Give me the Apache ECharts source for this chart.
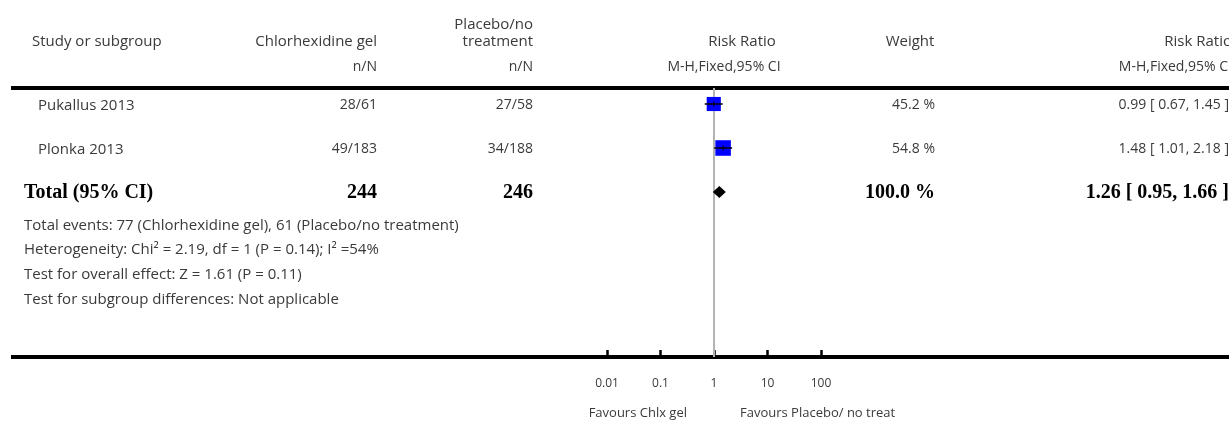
<!DOCTYPE html>
<html>
<head>
<meta charset="utf-8">
<script src="https://cdn.jsdelivr.net/npm/echarts@6/dist/echarts.min.js"></script>
<style>
html, body { margin: 0; padding: 0; background: #fff; }
#chart { width: 1229px; height: 423px; }
</style>
</head>
<body>
<div id="chart"></div>
<script>
// study rows
var studies = ['Pukallus 2013', 'Plonka 2013'];
var treatEvents = ['28/61', '49/183'];
var ctrlEvents = ['27/58', '34/188'];
var ratio = [0.99, 1.48];
var ciLow = [0.67, 1.01];
var ciHigh = [1.45, 2.18];
var weights = [45.2, 54.8];

// pooled
var totalLabel = 'Total (95% CI)';
var totalN = ['244', '246'];
var totalWeight = 100.0;
var totalRatio = [1.26, 0.95, 1.66];

var footnotes = [
    'Total events: 77 (Chlorhexidine gel), 61 (Placebo/no treatment)',
    'Heterogeneity: Chi\u00b2 = 2.19, df = 1 (P = 0.14); I\u00b2 =54%',
    'Test for overall effect: Z = 1.61 (P = 0.11)',
    'Test for subgroup differences: Not applicable'
];
var tickLabels = ['0.01', '0.1', '1', '10', '100'];
var favours = ['Favours Chlx gel', 'Favours Placebo/ no treat'];

var font = '"Open Sans", Lato, sans-serif';
var serif = '"Liberation Serif", "DejaVu Serif", serif';
var txt = '#3a3a3a';
var rowY = [104, 148, 192];
var rowH = 44;

function fmt(v) { return v.toFixed(2); }
function ciText(r, l, h) { return fmt(r) + ' [ ' + fmt(l) + ', ' + fmt(h) + ' ]'; }

function text(x, y, s, align, opts) {
    opts = opts || {};
    return {
        type: 'text', x: x, y: y + (opts.dy === undefined ? 1.5 : opts.dy), silent: true,
        style: {
            text: s, textAlign: align, textVerticalAlign: 'middle',
            font: (opts.bold ? 'bold ' : '') + (opts.size || 15) + 'px ' + (opts.family || font),
            fill: opts.color || txt
        }
    };
}

var num = { size: 14 };
var g = [];
// headers
g.push(text(32, 40, 'Study or subgroup', 'left'));
g.push(text(377, 40, 'Chlorhexidine gel', 'right'));
g.push(text(533, 23, 'Placebo/no', 'right'));
g.push(text(533, 40, 'treatment', 'right'));
g.push(text(742, 40, 'Risk Ratio', 'center'));
g.push(text(910, 40, 'Weight', 'center'));
g.push(text(1232, 40, 'Risk Ratio', 'right'));
g.push(text(377, 66, 'n/N', 'right', num));
g.push(text(533, 66, 'n/N', 'right', num));
g.push(text(724, 66, 'M-H,Fixed,95% CI', 'center', num));
g.push(text(1232, 66, 'M-H,Fixed,95% CI', 'right', num));

// rules
g.push({ type: 'line', silent: true, shape: { x1: 11, y1: 88, x2: 1229, y2: 88 }, style: { stroke: '#000', lineWidth: 4 } });
g.push({ type: 'line', silent: true, shape: { x1: 11, y1: 357, x2: 1229, y2: 357 }, style: { stroke: '#000', lineWidth: 4 } });

studies.forEach(function (s, i) {
    var y = rowY[i];
    g.push(text(38, y, s, 'left'));
    g.push(text(377, y, treatEvents[i], 'right', num));
    g.push(text(533, y, ctrlEvents[i], 'right', num));
    g.push(text(935, y, weights[i].toFixed(1) + ' %', 'right', num));
    g.push(text(1229, y, ciText(ratio[i], ciLow[i], ciHigh[i]), 'right', num));
});

var bold = { bold: true, size: 20, family: serif, color: '#000', dy: 0.5 };
g.push(text(24, rowY[2], totalLabel, 'left', bold));
g.push(text(377, rowY[2], totalN[0], 'right', bold));
g.push(text(533, rowY[2], totalN[1], 'right', bold));
g.push(text(935, rowY[2], totalWeight.toFixed(1) + ' %', 'right', bold));
g.push(text(1229, rowY[2], ciText(totalRatio[0], totalRatio[1], totalRatio[2]), 'right', bold));

footnotes.forEach(function (f, i) {
    g.push(text(24, 224 + i * 24.7, f, 'left'));
});

g.push(text(687, 412, favours[0], 'right', { size: 13 }));
g.push(text(740, 412, favours[1], 'left', { size: 13 }));

var rows = studies.map(function (s, i) { return i; });
var squares = rows.map(function (i) { return [ratio[i], i, weights[i]]; });
var cis = rows.map(function (i) { return [ratio[i], i, ciLow[i], ciHigh[i]]; });

var chart = echarts.init(document.getElementById('chart'));
chart.setOption({
    animation: false,
    grid: { left: 607, width: 214, top: 88, height: 269 },
    xAxis: {
        type: 'log', logBase: 10, min: 0.01, max: 100,
        splitLine: { show: false },
        axisLine: { onZero: false, lineStyle: { color: '#000', width: 4 } },
        axisTick: { inside: true, length: 7, lineStyle: { color: '#000', width: 2.5 } },
        axisLabel: {
            margin: 21, fontFamily: font, fontSize: 12, color: txt,
            formatter: function (v) {
                var k = Math.round(Math.log10(v)) + 2;
                return tickLabels[k] || '';
            }
        }
    },
    yAxis: {
        type: 'value', inverse: true, show: false,
        min: -16 / rowH, max: (357 - 104) / rowH
    },
    series: [
        {
            type: 'scatter',
            symbol: 'rect',
            symbolSize: function (d) { return Math.sqrt(d[2]) * 2.1; },
            itemStyle: { color: '#0000ff', opacity: 1 },
            data: squares,
            z: 3,
            markLine: {
                silent: true, symbol: 'none',
                label: { show: false },
                lineStyle: { color: '#b4b4b4', width: 2, type: 'solid' },
                data: [{ xAxis: 1 }],
                z: 1
            }
        },
        {
            type: 'custom',
            z: 4,
            data: cis,
            encode: { x: [0, 2, 3], y: 1 },
            renderItem: function (params, api) {
                var a = api.coord([api.value(2), api.value(1)]);
                var b = api.coord([api.value(3), api.value(1)]);
                var c = api.coord([api.value(0), api.value(1)]);
                return {
                    type: 'group',
                    children: [
                        { type: 'line', shape: { x1: a[0], y1: a[1], x2: b[0], y2: b[1] }, style: { stroke: '#000', lineWidth: 1.5 } },
                        { type: 'line', shape: { x1: c[0], y1: c[1] - 2.5, x2: c[0], y2: c[1] + 2.5 }, style: { stroke: '#000', lineWidth: 1 } }
                    ]
                };
            }
        },
        {
            type: 'custom',
            z: 4,
            data: [[totalRatio[0], 2, totalRatio[1], totalRatio[2]]],
            encode: { x: [0, 2, 3], y: 1 },
            renderItem: function (params, api) {
                var c = api.coord([api.value(0), api.value(1)]);
                var l = api.coord([api.value(2), api.value(1)]);
                var r = api.coord([api.value(3), api.value(1)]);
                return {
                    type: 'polygon',
                    shape: { points: [[l[0], c[1]], [c[0], c[1] - 6], [r[0], c[1]], [c[0], c[1] + 6]] },
                    style: { fill: '#000' }
                };
            }
        }
    ],
    graphic: g
});
</script>
</body>
</html>
